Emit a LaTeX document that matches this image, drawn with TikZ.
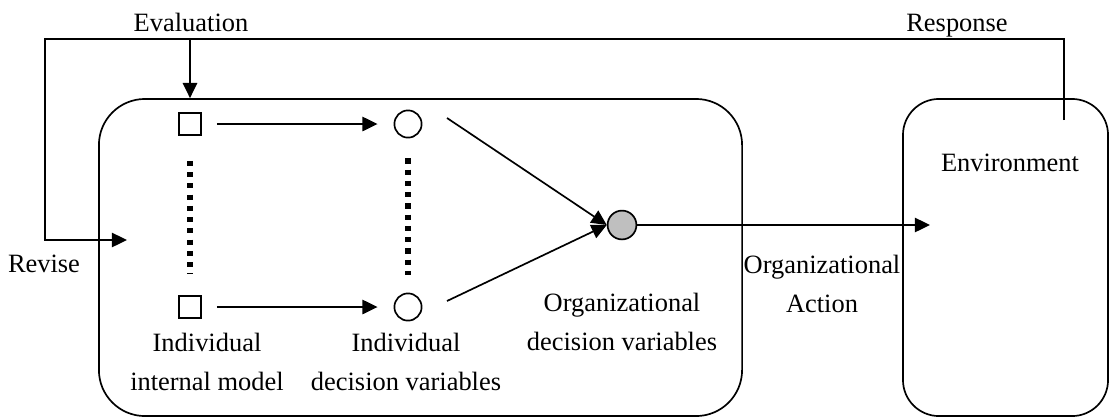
\documentclass[tikz,border=0pt]{standalone}
\usepackage{fontspec}
\setmainfont{Liberation Serif}
\usetikzlibrary{arrows.meta}

\begin{document}
\begin{tikzpicture}[
  x=0.025cm, y=-0.025cm,
  font=\fontsize{18.8}{27.7}\selectfont,
  line width=1.2pt,
  arr/.style={-{Triangle[length=0.38cm, width=0.36cm]}},
  lbl/.style={align=center, anchor=base, inner sep=0pt},
  panel/.style={draw, inner sep=0pt, minimum height=7.925cm},
  sq/.style={draw, inner sep=0pt, minimum size=0.55cm},
  var/.style={draw, circle, inner sep=0pt, minimum size=0.68cm},
  dots/.style={line width=3.6pt, dash pattern=on 3.6pt off 4.4pt}
]

\useasboundingbox (0,0) rectangle (1109,417);

% -------------------------------------------------
% Panels
% -------------------------------------------------
\node[panel, rounded corners=1.15cm, minimum width=16.075cm] (org) at (420.5,257.5) {};
\node[panel, rounded corners=0.9cm, minimum width=5.125cm] (env) at (1005.5,257.5) {};

% -------------------------------------------------
% Individual models and decision variables
% -------------------------------------------------
\node[sq] (sq1) at (190,124) {};
\node[sq] (sq2) at (190,307) {};

\node[var] (c1) at (408,124) {};
\node[var] (c2) at (408,307) {};

\node[var, fill=black!25, minimum size=0.72cm] (g) at (622,225) {};

% -------------------------------------------------
% Labels (base = last line)
% -------------------------------------------------
\node[lbl] (evaltxt) at (191,31) {Evaluation};
\node[lbl] (resptxt) at (957,31) {Response};
\node[lbl] (revtxt) at (44,272) {Revise};
\node[lbl] (envtxt) at (1010,171) {Environment};
\node[lbl] (acttxt) at (822,312) {Organizational\\Action};
\node[lbl] (gtxt) at (622,350) {Organizational\\decision variables};
\node[lbl] (sqtxt) at (207,390) {Individual\\internal model};
\node[lbl] (ctxt) at (406,390) {Individual\\decision variables};

% -------------------------------------------------
% Dotted columns
% -------------------------------------------------
\draw[dots, shorten <=0.625cm, shorten >=0.525cm] (sq1) -- (sq2);
\draw[dots, shorten <=0.5cm, shorten >=0.45cm] (c1) -- (c2);

% -------------------------------------------------
% Arrows
% -------------------------------------------------
\draw[arr, shorten <=0.375cm, shorten >=0.4cm] (sq1) -- (c1);
\draw[arr, shorten <=0.375cm, shorten >=0.4cm] (sq2) -- (c2);

\draw[arr] ([shift={(39,-6)}]c1.center) -- (g.west);
\draw[arr] ([shift={(39,-6)}]c2.center) -- (g.west);

\coordinate (act) at (930,225);
\draw[arr] (g) -- (act);

% feedback loop: response -> revise
\coordinate (resp) at (1064,120);
\coordinate (topL) at (45,39);
\coordinate (rev) at (127,240);
\draw[arr] (resp) |- (topL) |- (rev);

% evaluation
\coordinate (evl) at (sq1 |- topL);
\draw[arr] (evl) -- (evl |- org.north);

\end{tikzpicture}
\end{document}
